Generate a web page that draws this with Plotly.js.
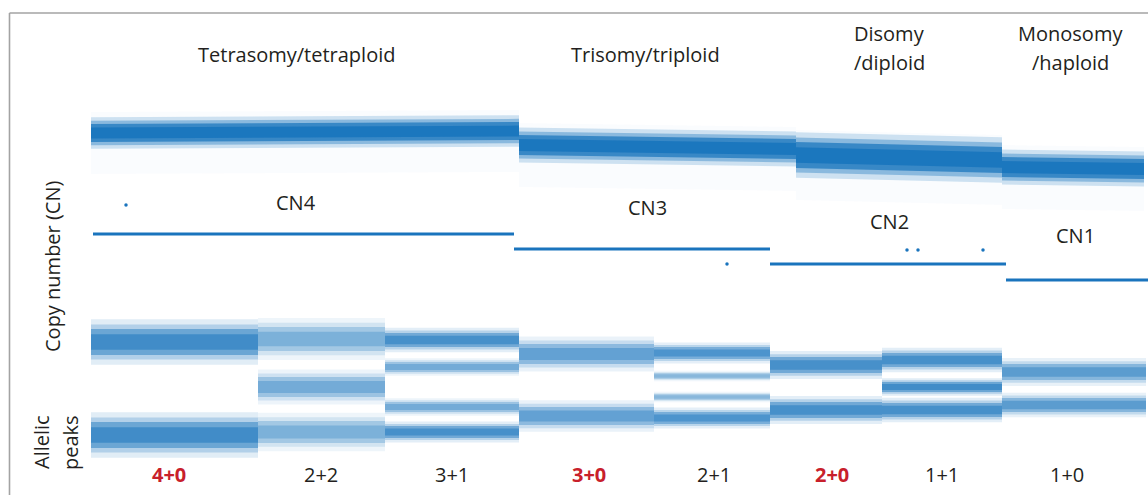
<!DOCTYPE html>
<html>
<head>
<meta charset="utf-8">
<script src="https://cdn.plot.ly/plotly-3.0.1.min.js"></script>
<style>html,body{margin:0;padding:0;background:#fff;}#chart{width:1148px;height:495px;}</style>
</head>
<body>
<div id="chart"></div>
<script>
// ---- Ploidy groups (copy-number track) ----
const groupTitles = ['Tetrasomy/tetraploid', 'Trisomy/triploid', 'Disomy\n/diploid', 'Monosomy\n/haploid'];
const groupCN = ['CN4', 'CN3', 'CN2', 'CN1'];
const groupStart = [91, 519, 796, 1002];
const groupEnd = [519, 796, 1002, 1144];
// raw log-ratio cloud level at start and end of each group, and its core half-spread
const rawLevelStart = [133, 145, 155, 167];
const rawLevelEnd = [131, 149, 160, 169];
const rawSpread = [9, 10, 13, 10];
// segmented copy-number call lines
const cnLevel = [234, 249, 264, 280];
const cnStart = [93, 514, 770, 1006];
const cnEnd = [514, 770, 1006, 1148];

// ---- Allelic segments ----
const segLabels = ['4+0', '2+2', '3+1', '3+0', '2+1', '2+0', '1+1', '1+0'];
const segLOH = [true, false, false, true, false, true, false, false];
const segStart = [91, 258, 385, 519, 654, 770, 882, 1002];
const segEnd = [258, 385, 519, 654, 770, 882, 1002, 1146];
// allelic peak bands: segment index, centre, half-spread, relative point density
const bandSeg = [0, 0, 1, 1, 1, 2, 2, 2, 2, 3, 3, 4, 4, 4, 4, 5, 5, 6, 6, 6, 7, 7];
const bandCenter = [342, 435, 339, 387, 432, 340, 367, 407, 432, 354, 416, 353, 376, 397, 418, 365, 410, 360, 387, 410, 372, 405];
const bandSpread = [13, 13, 12, 10, 11, 7, 5, 5, 6, 10, 9, 6, 3, 3, 6, 8, 8, 7, 5, 7, 8, 7];
const bandDensity = [0.9, 0.9, 0.5, 0.55, 0.5, 0.85, 0.55, 0.55, 0.85, 0.65, 0.65, 0.8, 0.45, 0.45, 0.8, 0.85, 0.85, 0.85, 0.9, 0.85, 0.7, 0.7];

// isolated outlier probes
const dotX = [126, 727, 907, 918, 983];
const dotY = [205, 264, 250, 250, 250];

// ---- build ----
const BLUE = '17,112,187';
const traces = [];
function band(x0, x1, c0, c1, h, alpha) {
  traces.push({
    type: 'scatter', mode: 'lines', fill: 'toself',
    x: [x0, x1, x1, x0, x0],
    y: [c0 - h, c1 - h, c1 + h, c0 + h, c0 - h],
    line: {width: 0}, fillcolor: 'rgba(' + BLUE + ',' + Math.min(1, alpha).toFixed(3) + ')',
    hoverinfo: 'skip', showlegend: false
  });
}
// soft-edged band: stacked layers give a density gradient
const layerSpread = [1.75, 1.35, 1.0, 0.6];
const layerAlpha = [0.12, 0.22, 0.42, 0.45];
function softBand(x0, x1, c0, c1, h, dens) {
  for (let j = 0; j < layerSpread.length; j++) band(x0, x1, c0, c1, h * layerSpread[j], layerAlpha[j] * dens);
}
// raw copy number clouds (very dense)
for (let i = 0; i < groupStart.length; i++) {
  band(groupStart[i], groupEnd[i], rawLevelStart[i] + 10, rawLevelEnd[i] + 10, rawSpread[i] + 22, 0.02);
  softBand(groupStart[i], groupEnd[i], rawLevelStart[i], rawLevelEnd[i], rawSpread[i], 1.6);
}
// allelic bands
for (let k = 0; k < bandSeg.length; k++) {
  const s = bandSeg[k];
  softBand(segStart[s], segEnd[s], bandCenter[k], bandCenter[k], bandSpread[k], bandDensity[k] * 1.15);
}
// CN call lines
for (let i = 0; i < cnLevel.length; i++) {
  traces.push({
    type: 'scatter', mode: 'lines',
    x: [cnStart[i], cnEnd[i]], y: [cnLevel[i], cnLevel[i]],
    line: {color: '#1a74bd', width: 3}, hoverinfo: 'skip', showlegend: false
  });
}
traces.push({
  type: 'scatter', mode: 'markers', x: dotX, y: dotY,
  marker: {color: '#1a74bd', size: 3.5}, hoverinfo: 'skip', showlegend: false
});

const FONT = '"Open Sans", "Noto Sans", sans-serif';
const TXT = '#231f20';
const RED = '#c8202b';
const ann = [];
function txt(x, y, t, opts) {
  ann.push(Object.assign({
    x: x, y: y, xref: 'x', yref: 'y', text: t, showarrow: false,
    xanchor: 'center', yanchor: 'middle',
    font: {family: FONT, size: 20, color: TXT}
  }, opts || {}));
}
// group titles (positions are layout)
const titleX = [296, 645, 889, 1070];
groupTitles.forEach((t, i) => {
  const lines = t.split('\n');
  if (lines.length === 1) txt(titleX[i], 54, lines[0]);
  else { txt(titleX[i], 33, lines[0]); txt(titleX[i], 62, lines[1]); }
});
// CN labels
const cnLabelX = [296, 647, 889, 1075];
const cnLabelY = [202, 207, 221, 235];
groupCN.forEach((t, i) => txt(cnLabelX[i], cnLabelY[i], t));
// genotype labels
const genoX = [169, 321, 452, 589, 714, 832, 942, 1067];
segLabels.forEach((t, i) => {
  if (segLOH[i]) txt(genoX[i], 474, '<b>' + t + '</b>', {font: {family: FONT, size: 20, color: RED}});
  else txt(genoX[i], 474, t);
});
// side labels
txt(52, 266, 'Copy number (CN)', {textangle: -90});
txt(41, 442, 'Allelic', {textangle: -90});
txt(70, 443, 'peaks', {textangle: -90});

const layout = {
  width: 1148, height: 495,
  margin: {l: 0, r: 0, t: 0, b: 0},
  paper_bgcolor: '#ffffff', plot_bgcolor: '#ffffff',
  xaxis: {range: [0, 1148], visible: false, fixedrange: true},
  yaxis: {range: [495, 0], visible: false, fixedrange: true},
  showlegend: false,
  annotations: ann,
  shapes: [
    {type: 'line', xref: 'paper', yref: 'paper', x0: 9.5 / 1148, x1: 9.5 / 1148, y0: 0, y1: 1 - 13 / 495, line: {color: '#a3a3a3', width: 1.6}},
    {type: 'line', xref: 'paper', yref: 'paper', x0: 9.5 / 1148, x1: 1, y0: 1 - 13 / 495, y1: 1 - 13 / 495, line: {color: '#a3a3a3', width: 1.6}}
  ]
};
Plotly.newPlot('chart', traces, layout, {displayModeBar: false, staticPlot: true});
</script>
</body>
</html>
